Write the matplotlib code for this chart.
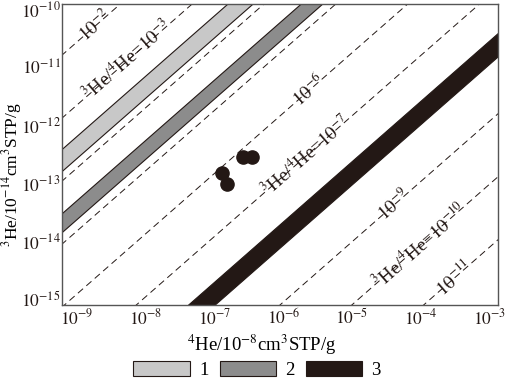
import numpy as np
import matplotlib
matplotlib.use("Agg")
import matplotlib.pyplot as plt
from matplotlib.patches import Patch
from matplotlib.ticker import FixedLocator, FuncFormatter, NullLocator

plt.rcParams["font.family"] = "serif"
plt.rcParams["font.serif"] = ["Liberation Serif", "DejaVu Serif"]
plt.rcParams["mathtext.fontset"] = "stix"

# 3He/4He reference lines (exponent of the ratio)
ratio_lines = [-2, -3, -4, -5, -6, -7, -9, -10, -11]

# fields 1, 2, 3 (ratio exponents of lower / upper edge)
band_low = [-3.85, -4.82, -8.10]
band_high = [-3.50, -4.52, -7.73]
band_colors = ["#c8c8c8", "#8c8c8c", "#231815"]
band_names = ["1", "2", "3"]

# samples
sample_he4 = [1.28e-7, 1.51e-7, 2.58e-7, 3.48e-7]
sample_he3 = [1.48e-13, 9.5e-14, 2.81e-13, 2.81e-13]

x_ticks = [1e-9, 1e-8, 1e-7, 1e-6, 1e-5, 1e-4, 1e-3]
y_ticks = [1e-15, 1e-14, 1e-13, 1e-12, 1e-11, 1e-10]

# labels written along the lines
label_ratio = [-2, -3, -6, -7, -9, -10, -11]
label_x = [10**-8.74, 10**-8.27, 10**-5.63, 10**-5.67, 10**-4.39, 10**-4.02, 10**-3.51]
label_text = [r"$10^{-2}$", r"$^{3}$He/$^{4}$He=$10^{-3}$", r"$10^{-6}$",
              r"$^{3}$He/$^{4}$He=$10^{-7}$", r"$10^{-9}$",
              r"$^{3}$He/$^{4}$He=$10^{-10}$", r"$10^{-11}$"]

# geometry of the drawn diagram lines (as in the original figure)
SLOPE = 1.043
SPACING = 1.09
OFFSET = 1.012


def ratio_y(x, r):
    return 10 ** (OFFSET + SPACING * r + SLOPE * np.log10(x))


ink = "#231815"
fig = plt.figure(figsize=(5.05, 3.8), dpi=100)
ax = fig.add_axes([0.1228, 0.197, 0.863, 0.7925])
ax.set_xscale("log")
ax.set_yscale("log")
ax.set_xlim(10**-9.22, 10**-2.88)
ax.set_ylim(10**-15.11, 10**-9.90)

xs = np.logspace(-9.6, -2.5, 60)
for r in ratio_lines:
    ax.plot(xs, ratio_y(xs, r), color=ink, lw=0.7, dashes=(7, 4.5), zorder=1)

for lo, hi, c in zip(band_low, band_high, band_colors):
    ax.fill_between(xs, ratio_y(xs, lo), ratio_y(xs, hi), facecolor=c,
                    edgecolor=ink, lw=0.8, zorder=2)

ax.plot(sample_he4, sample_he3, "o", color=ink, markersize=9.5, zorder=5)

for r, x, t in zip(label_ratio, label_x, label_text):
    p1 = ax.transData.transform((x, ratio_y(x, r)))
    p2 = ax.transData.transform((x * 2, ratio_y(x * 2, r)))
    ang = np.degrees(np.arctan2(p2[1] - p1[1], p2[0] - p1[0]))
    ax.text(x, ratio_y(x, r), t, rotation=ang, rotation_mode="anchor",
            ha="center", va="center", fontsize=13.5, color=ink, zorder=4)

ax.xaxis.set_major_locator(FixedLocator(x_ticks))
ax.yaxis.set_major_locator(FixedLocator(y_ticks))
ax.xaxis.set_minor_locator(NullLocator())
ax.yaxis.set_minor_locator(NullLocator())
fmt = FuncFormatter(lambda v, p: r"$10^{%d}$" % round(np.log10(v)))
ax.xaxis.set_major_formatter(fmt)
ax.yaxis.set_major_formatter(fmt)
ax.tick_params(axis="x", length=0, labelsize=12.5, pad=2, colors=ink)
ax.tick_params(axis="y", length=0, labelsize=12.5, pad=1, colors=ink)

for s in ax.spines.values():
    s.set_color("#555555")
    s.set_linewidth(1)

ax.set_xlabel(r"$^{4}$He/10$^{-8}$cm$^{3}$STP/g", fontsize=13.5)
ax.set_ylabel(r"$^{3}$He/10$^{-14}$cm$^{3}$STP/g", fontsize=12.5)
ax.xaxis.set_label_coords(0.459, -0.093)
ax.yaxis.set_label_coords(-0.088, 0.435)

handles = [Patch(facecolor=c, edgecolor=ink, lw=0.8, label=n)
           for c, n in zip(band_colors, band_names)]
fig.legend(handles=handles, loc="center", bbox_to_anchor=(0.509, 0.026),
           ncol=3, frameon=False, fontsize=13.5, handlelength=3.0,
           handleheight=0.8, handletextpad=0.5, columnspacing=0.6)

fig.savefig("out.png", dpi=100)
